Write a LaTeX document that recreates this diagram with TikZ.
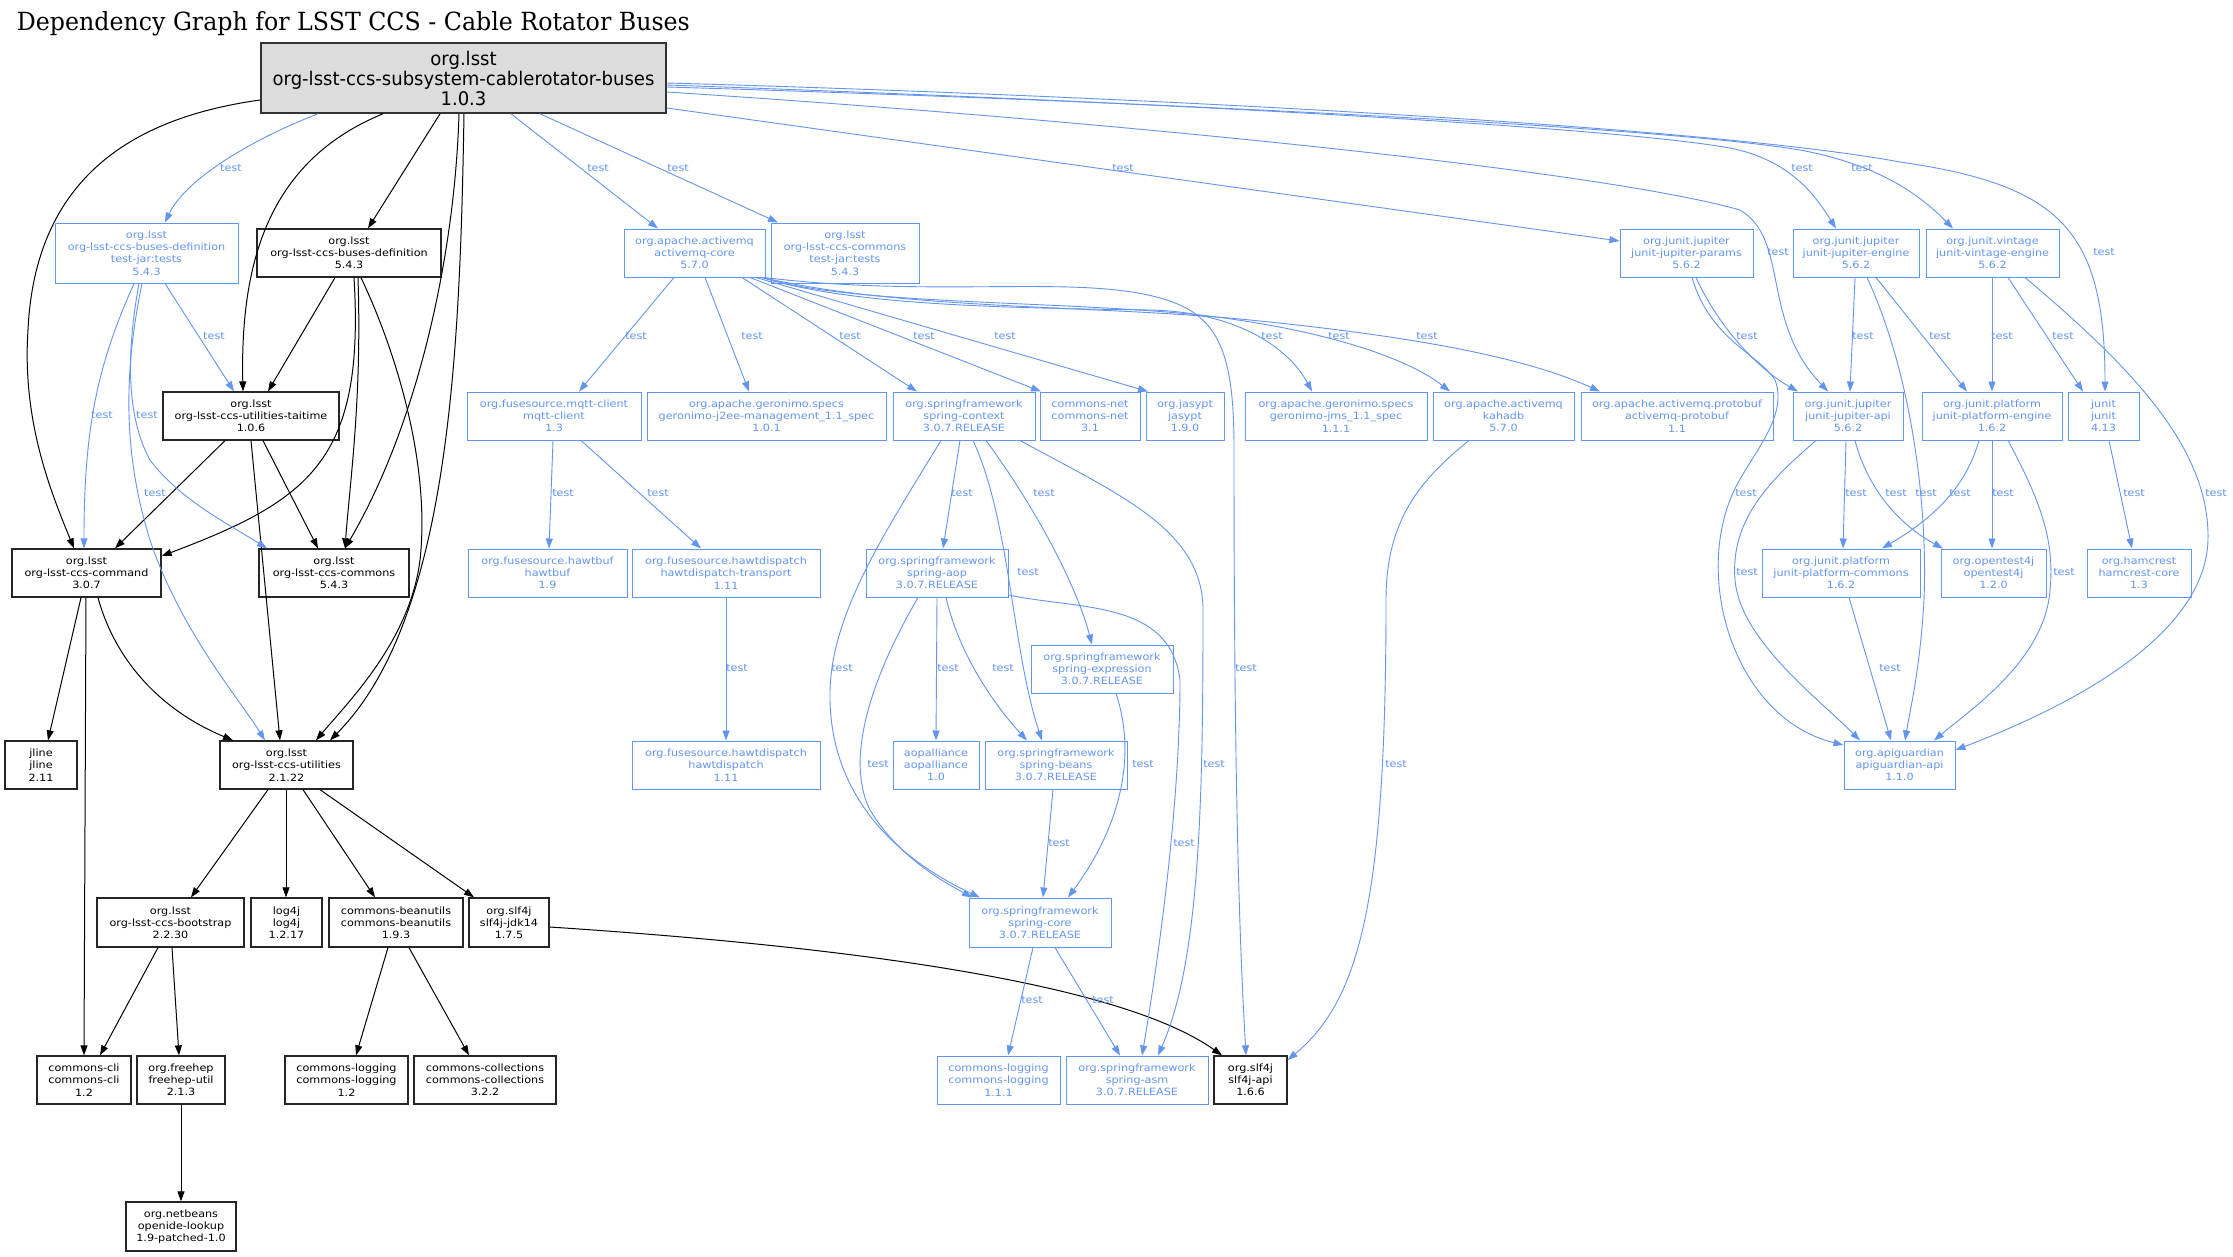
\documentclass[tikz,border=0pt]{standalone}
\usepackage{fontspec}
\usetikzlibrary{arrows.meta}
\newfontfamily\nf{DejaVu Sans}[FakeStretch=1.12]
\newfontfamily\rf{DejaVu Sans}[FakeStretch=0.96]
\newfontfamily\tf{DejaVu Serif}
\definecolor{cfb}{RGB}{100,149,237}
\definecolor{rootfill}{RGB}{220,220,220}
\tikzset{
 nb/.style={draw=black!85, line width=1.3pt, fill=white, align=center, inner sep=0pt, font=\nf\fontsize{10}{12.2}\selectfont, text=black},
 nt/.style={draw=cfb, line width=1.0pt, fill=white, align=center, inner sep=0pt, font=\nf\fontsize{10}{12.2}\selectfont, text=cfb},
 eb/.style={draw=black, line width=1.0pt, -{Triangle[length=10pt,width=7pt]}},
 et/.style={draw=cfb, line width=0.9pt, -{Triangle[length=10pt,width=7pt]}},
 lab/.style={font=\nf\fontsize{10}{12}\selectfont, text=cfb, inner sep=0pt},
}
\begin{document}
\begin{tikzpicture}[x=1pt,y=-1pt]
\useasboundingbox (0,0) rectangle (2233,1256);
\fill[white] (0,0) rectangle (2233,1256);
\node[anchor=base west, inner sep=0pt] (title) at (16.7,30) {\resizebox{673pt}{\height}{\tf\fontsize{25}{30}\selectfont Dependency Graph for LSST CCS - Cable Rotator Buses}};
% nodes
\node[draw=black!80, line width=1.6pt, fill=rootfill, align=center, inner sep=0pt, font=\rf\fontsize{18.8}{20}\selectfont, minimum width=405pt, minimum height=70pt] (root) at (463.5,78) {org.lsst\\org-lsst-ccs-subsystem-cablerotator-buses\\1.0.3};
\node[nt, minimum width=183pt, minimum height=60pt] (bdt) at (146.5,253) {org.lsst\\org-lsst-ccs-buses-definition\\test-jar:tests\\5.4.3};
\node[nb, minimum width=184pt, minimum height=48pt] (bdef) at (349,253) {org.lsst\\org-lsst-ccs-buses-definition\\5.4.3};
\node[nt, minimum width=141pt, minimum height=48pt] (amq) at (694.5,253) {org.apache.activemq\\activemq-core\\5.7.0};
\node[nt, minimum width=148pt, minimum height=60pt] (cct) at (845,253) {org.lsst\\org-lsst-ccs-commons\\test-jar:tests\\5.4.3};
\node[nt, minimum width=133pt, minimum height=48pt] (jparams) at (1686.5,253) {org.junit.jupiter\\junit-jupiter-params\\5.6.2};
\node[nt, minimum width=126pt, minimum height=48pt] (jeng) at (1856,253) {org.junit.jupiter\\junit-jupiter-engine\\5.6.2};
\node[nt, minimum width=133pt, minimum height=48pt] (veng) at (1992.5,253) {org.junit.vintage\\junit-vintage-engine\\5.6.2};
% row 2
\node[nb, minimum width=176pt, minimum height=48pt] (tai) at (251,416) {org.lsst\\org-lsst-ccs-utilities-taitime\\1.0.6};
\node[nt, minimum width=174pt, minimum height=48pt] (mqtt) at (554,416) {org.fusesource.mqtt-client\\mqtt-client\\1.3};
\node[nt, minimum width=239pt, minimum height=48pt] (j2ee) at (766.5,416) {org.apache.geronimo.specs\\geronimo-j2ee-management\_1.1\_spec\\1.0.1};
\node[nt, minimum width=142pt, minimum height=48pt] (sctx) at (964,416) {org.springframework\\spring-context\\3.0.7.RELEASE};
\node[nt, minimum width=100pt, minimum height=48pt] (cnet) at (1090,416) {commons-net\\commons-net\\3.1};
\node[nt, minimum width=78pt, minimum height=48pt] (jasypt) at (1185,416) {org.jasypt\\jasypt\\1.9.0};
\node[nt, minimum width=182pt, minimum height=48pt] (jms) at (1336,416) {org.apache.geronimo.specs\\geronimo-jms\_1.1\_spec\\1.1.1};
\node[nt, minimum width=141pt, minimum height=48pt] (kahadb) at (1503.5,416) {org.apache.activemq\\kahadb\\5.7.0};
\node[nt, minimum width=192pt, minimum height=48pt] (proto) at (1677,416) {org.apache.activemq.protobuf\\activemq-protobuf\\1.1};
\node[nt, minimum width=110pt, minimum height=48pt] (japi) at (1848,416) {org.junit.jupiter\\junit-jupiter-api\\5.6.2};
\node[nt, minimum width=140pt, minimum height=48pt] (peng) at (1992,416) {org.junit.platform\\junit-platform-engine\\1.6.2};
\node[nt, minimum width=71pt, minimum height=48pt] (junit) at (2103.5,416) {junit\\junit\\4.13};
% row 3
\node[nb, minimum width=149pt, minimum height=48pt] (cmd) at (86.5,573) {org.lsst\\org-lsst-ccs-command\\3.0.7};
\node[nb, minimum width=150pt, minimum height=48pt] (cmn) at (334,573) {org.lsst\\org-lsst-ccs-commons\\5.4.3};
\node[nt, minimum width=159pt, minimum height=48pt] (hawtbuf) at (547.5,573) {org.fusesource.hawtbuf\\hawtbuf\\1.9};
\node[nt, minimum width=188pt, minimum height=48pt] (hdt) at (726,573) {org.fusesource.hawtdispatch\\hawtdispatch-transport\\1.11};
\node[nt, minimum width=142pt, minimum height=48pt] (aop) at (937,573) {org.springframework\\spring-aop\\3.0.7.RELEASE};
\node[nt, minimum width=158pt, minimum height=48pt] (pcom) at (1841,573) {org.junit.platform\\junit-platform-commons\\1.6.2};
\node[nt, minimum width=105pt, minimum height=48pt] (ot4j) at (1993.5,573) {org.opentest4j\\opentest4j\\1.2.0};
\node[nt, minimum width=104pt, minimum height=48pt] (ham) at (2139,573) {org.hamcrest\\hamcrest-core\\1.3};
\node[nt, minimum width=142pt, minimum height=48pt] (sexp) at (1102,669) {org.springframework\\spring-expression\\3.0.7.RELEASE};
% row 4
\node[nb, minimum width=72pt, minimum height=48pt] (jline) at (41,765) {jline\\jline\\2.11};
\node[nb, minimum width=133pt, minimum height=48pt] (util) at (286.5,765) {org.lsst\\org-lsst-ccs-utilities\\2.1.22};
\node[nt, minimum width=188pt, minimum height=48pt] (hd) at (726,765) {org.fusesource.hawtdispatch\\hawtdispatch\\1.11};
\node[nt, minimum width=86pt, minimum height=48pt] (aopa) at (936,765) {aopalliance\\aopalliance\\1.0};
\node[nt, minimum width=142pt, minimum height=48pt] (sbeans) at (1056,765) {org.springframework\\spring-beans\\3.0.7.RELEASE};
\node[nt, minimum width=111pt, minimum height=48pt] (apig) at (1899.5,765) {org.apiguardian\\apiguardian-api\\1.1.0};
% row 5
\node[nb, minimum width=147pt, minimum height=49pt] (boot) at (170.5,922.5) {org.lsst\\org-lsst-ccs-bootstrap\\2.2.30};
\node[nb, minimum width=71pt, minimum height=49pt] (log4j) at (286.5,922.5) {log4j\\log4j\\1.2.17};
\node[nb, minimum width=134pt, minimum height=49pt] (cbu) at (396,922.5) {commons-beanutils\\commons-beanutils\\1.9.3};
\node[nb, minimum width=80pt, minimum height=49pt] (jdk14) at (509,922.5) {org.slf4j\\slf4j-jdk14\\1.7.5};
\node[nt, minimum width=142pt, minimum height=49pt] (score) at (1040,922.5) {org.springframework\\spring-core\\3.0.7.RELEASE};
% row 6
\node[nb, minimum width=94pt, minimum height=48pt] (ccli) at (84,1080) {commons-cli\\commons-cli\\1.2};
\node[nb, minimum width=88pt, minimum height=48pt] (fhu) at (181,1080) {org.freehep\\freehep-util\\2.1.3};
\node[nb, minimum width=123pt, minimum height=48pt] (clog) at (346.5,1080) {commons-logging\\commons-logging\\1.2};
\node[nb, minimum width=142pt, minimum height=48pt] (ccol) at (485,1080) {commons-collections\\commons-collections\\3.2.2};
\node[nt, minimum width=123pt, minimum height=48pt] (clog2) at (998.5,1080) {commons-logging\\commons-logging\\1.1.1};
\node[nt, minimum width=142pt, minimum height=48pt] (sasm) at (1137,1080) {org.springframework\\spring-asm\\3.0.7.RELEASE};
\node[nb, minimum width=73pt, minimum height=48pt] (slapi) at (1250.5,1080) {org.slf4j\\slf4j-api\\1.6.6};
\node[nb, minimum width=110pt, minimum height=49pt] (lookup) at (181,1226.5) {org.netbeans\\openide-lookup\\1.9-patched-1.0};
% black edges
\draw[eb] (root.west |- 0,100) .. controls (130,118) and (35,180) .. (28,330) .. controls (22,420) and (50,490) .. (cmd.north -| 74,0);
\draw[eb] (root.south -| 383,0) .. controls (270,160) and (240,260) .. (tai.north -| 243,0);
\draw[eb] (root.south -| 440,0) -- (bdef.north -| 368,0);
\draw[eb] (root.south -| 459,0) .. controls (455,250) and (420,420) .. (cmn.north -| 345,0);
\draw[eb] (root.south -| 464,0) .. controls (460,350) and (450,620) .. (util.north -| 330,0);
\draw[eb] (bdef.south -| 335,0) -- (tai.north -| 268,0);
\draw[eb] (bdef.south -| 354,0) .. controls (365,460) and (310,500) .. (cmd.east |- 0,556);
\draw[eb] (bdef.south -| 358,0) .. controls (362,400) and (350,480) .. (cmn.north -| 345,0);
\draw[eb] (bdef.south -| 361,0) .. controls (400,360) and (430,470) .. (420,560) .. controls (410,640) and (350,700) .. (util.north -| 316,0);
\draw[eb] (tai.south -| 225,0) -- (cmd.north -| 115,0);
\draw[eb] (tai.south -| 251,0) -- (util.north -| 280,0);
\draw[eb] (tai.south -| 263,0) -- (cmn.north -| 318,0);
\draw[eb] (cmd.south -| 81,0) -- (jline.north -| 48,0);
\draw[eb] (cmd.south -| 86,0) -- (ccli.north -| 84,0);
\draw[eb] (cmd.south -| 98,0) .. controls (115,660) and (160,710) .. (util.north -| 233,0);
\draw[eb] (util.south -| 268,0) -- (boot.north -| 191,0);
\draw[eb] (util.south -| 286,0) -- (log4j.north -| 286,0);
\draw[eb] (util.south -| 303,0) -- (cbu.north -| 375,0);
\draw[eb] (util.south -| 320,0) -- (jdk14.north -| 474,0);
\draw[eb] (boot.south -| 158,0) -- (ccli.north -| 100,0);
\draw[eb] (boot.south -| 172,0) -- (fhu.north -| 179,0);
\draw[eb] (fhu.south -| 181,0) -- (lookup.north -| 181,0);
\draw[eb] (cbu.south -| 388,0) -- (clog.north -| 356,0);
\draw[eb] (cbu.south -| 409,0) -- (ccol.north -| 469,0);
\draw[eb] (jdk14.east |- 0,927) .. controls (900,950) and (1130,990) .. (slapi.north -| 1222,0);
% blue edges from root
\draw[et] (root.south -| 318,0) .. controls (250,140) and (185,180) .. (bdt.north -| 165,0);
\draw[et] (root.south -| 511,0) -- (amq.north -| 658,0);
\draw[et] (root.south -| 540,0) -- (cct.north -| 778,0);
\draw[et] (root.east |- 0,108) -- (jparams.west |- 0,241);
\draw[et] (root.east |- 0,92) .. controls (1100,120) and (1600,170) .. (1740,210) .. controls (1790,240) and (1760,320) .. (japi.north -| 1828,0);
\draw[et] (root.east |- 0,85) .. controls (1100,100) and (1600,125) .. (1730,148) .. controls (1790,160) and (1815,195) .. (jeng.north -| 1836,0);
\draw[et] (root.east |- 0,87) .. controls (1100,100) and (1650,125) .. (1800,150) .. controls (1880,165) and (1920,195) .. (veng.north -| 1953,0);
\draw[et] (root.east |- 0,83) .. controls (1100,95) and (1700,125) .. (1900,162) .. controls (2060,185) and (2105,230) .. (junit.north -| 2105,0);
% bdt
\draw[et] (bdt.south -| 134,0) .. controls (100,360) and (84,420) .. (cmd.north -| 84,0);
\draw[et] (bdt.south -| 139,0) .. controls (125,360) and (128,420) .. (150,460) .. controls (180,500) and (230,525) .. (cmn.north -| 267,0);
\draw[et] (bdt.south -| 142,0) .. controls (122,380) and (125,460) .. (150,540) .. controls (180,630) and (240,700) .. (util.north -| 265,0);
\draw[et] (bdt.south -| 165,0) -- (tai.north -| 234,0);
% amq
\draw[et] (amq.south -| 674,0) -- (mqtt.north -| 579,0);
\draw[et] (amq.south -| 705,0) -- (j2ee.north -| 749,0);
\draw[et] (amq.south -| 742,0) -- (sctx.north -| 917,0);
\draw[et] (amq.south -| 750,0) -- (cnet.north -| 1041,0);
\draw[et] (amq.south -| 756,0) -- (jasypt.north -| 1148,0);
\draw[et] (amq.south -| 762,0) .. controls (850,305) and (1000,308) .. (1150,310) .. controls (1240,312) and (1290,350) .. (jms.north -| 1312,0);
\draw[et] (amq.south -| 762,0) .. controls (850,305) and (1050,300) .. (1200,315) .. controls (1330,330) and (1410,360) .. (kahadb.north -| 1450,0);
\draw[et] (amq.south -| 763,0) .. controls (900,310) and (1100,305) .. (1250,320) .. controls (1400,335) and (1520,355) .. (proto.north -| 1600,0);
\draw[et] (amq.south -| 764,0) .. controls (950,300) and (1100,270) .. (1180,305) .. controls (1225,325) and (1234,370) .. (1234,450) .. controls (1234,800) and (1240,950) .. (slapi.north -| 1246,0);
% mqtt
\draw[et] (mqtt.south -| 553,0) -- (hawtbuf.north -| 549,0);
\draw[et] (mqtt.south -| 581,0) -- (hdt.north -| 701,0);
\draw[et] (hdt.south -| 726,0) -- (hd.north -| 726,0);
% spring
\draw[et] (sctx.south -| 960,0) -- (aop.north -| 943,0);
\draw[et] (sctx.south -| 973,0) .. controls (1010,520) and (1012,650) .. (sbeans.north -| 1042,0);
\draw[et] (sctx.south -| 986,0) .. controls (1030,500) and (1075,580) .. (sexp.north -| 1092,0);
\draw[et] (sctx.south -| 941,0) .. controls (880,540) and (828,620) .. (830,700) .. controls (832,800) and (900,860) .. (score.north -| 980,0);
\draw[et] (sctx.south -| 1020,0) .. controls (1120,495) and (1203,530) .. (1203,610) .. controls (1203,800) and (1200,960) .. (sasm.north -| 1158,0);
\draw[et] (aop.south -| 937,0) -- (aopa.north -| 936,0);
\draw[et] (aop.south -| 946,0) .. controls (958,650) and (990,700) .. (sbeans.north -| 1027,0);
\draw[et] (aop.south -| 918,0) .. controls (870,680) and (845,760) .. (870,810) .. controls (900,860) and (950,885) .. (score.north -| 972,0);
\draw[et] (aop.east |- 0,595) .. controls (1080,610) and (1170,600) .. (1180,680) .. controls (1180,800) and (1160,950) .. (sasm.north -| 1142,0);
\draw[et] (sexp.south -| 1116,0) .. controls (1135,750) and (1125,820) .. (score.north -| 1068,0);
\draw[et] (sbeans.south -| 1053,0) -- (score.north -| 1043,0);
\draw[et] (score.south -| 1033,0) -- (clog2.north -| 1008,0);
\draw[et] (score.south -| 1055,0) -- (sasm.north -| 1120,0);
\draw[et] (kahadb.south -| 1469,0) .. controls (1420,480) and (1386,520) .. (1386,600) .. controls (1386,900) and (1360,1000) .. (slapi.east |- 0,1060);
% junit
\draw[et] (jparams.south -| 1696,0) .. controls (1720,330) and (1760,370) .. (japi.north -| 1798,0);
\draw[et] (jparams.south -| 1692,0) .. controls (1710,340) and (1760,355) .. (1775,380) .. controls (1790,420) and (1745,460) .. (1730,500) .. controls (1695,590) and (1740,720) .. (apig.west |- 0,745);
\draw[et] (japi.south -| 1816,0) .. controls (1770,480) and (1730,520) .. (1735,580) .. controls (1740,640) and (1820,700) .. (apig.north -| 1860,0);
\draw[et] (jeng.south -| 1855,0) -- (japi.north -| 1850,0);
\draw[et] (jeng.south -| 1867,0) .. controls (1910,370) and (1928,500) .. (1924,600) .. controls (1920,670) and (1910,710) .. (apig.north -| 1905,0);
\draw[et] (jeng.south -| 1876,0) -- (peng.north -| 1967,0);
\draw[et] (veng.south -| 1992,0) -- (peng.north -| 1992,0);
\draw[et] (veng.south -| 2008,0) -- (junit.north -| 2083,0);
\draw[et] (veng.south -| 2025,0) .. controls (2135,370) and (2210,450) .. (2208,540) .. controls (2205,640) and (2060,710) .. (apig.east |- 0,750);
\draw[et] (japi.south -| 1846,0) -- (pcom.north -| 1843,0);
\draw[et] (japi.south -| 1855,0) .. controls (1868,490) and (1900,525) .. (ot4j.north -| 1943,0);
\draw[et] (peng.south -| 1979,0) .. controls (1965,490) and (1930,520) .. (pcom.north -| 1882,0);
\draw[et] (peng.south -| 1992,0) -- (ot4j.north -| 1992,0);
\draw[et] (peng.south -| 2008,0) .. controls (2040,500) and (2055,540) .. (2050,590) .. controls (2045,660) and (1970,710) .. (apig.north -| 1934,0);
\draw[et] (junit.south -| 2109,0) -- (ham.north -| 2132,0);
\draw[et] (pcom.south -| 1849,0) -- (apig.north -| 1891,0);
% labels
\node[lab] (l1) at (231,168) {test};
\node[lab] (l2) at (598,168) {test};
\node[lab] (l3) at (678,168) {test};
\node[lab] (l4) at (1123,168) {test};
\node[lab] (l5) at (1778,252) {test};
\node[lab] (l6) at (1802,168) {test};
\node[lab] (l7) at (1862,168) {test};
\node[lab] (l8) at (2104,252) {test};
\node[lab] (l9) at (102,415) {test};
\node[lab] (l10) at (147,415) {test};
\node[lab] (l11) at (155,493) {test};
\node[lab] (l12) at (214,336) {test};
\node[lab] (l13) at (636,336) {test};
\node[lab] (l14) at (752,336) {test};
\node[lab] (l15) at (850,336) {test};
\node[lab] (l16) at (924,336) {test};
\node[lab] (l17) at (1005,336) {test};
\node[lab] (l18) at (1272,336) {test};
\node[lab] (l19) at (1339,336) {test};
\node[lab] (l20) at (1427,336) {test};
\node[lab] (l21) at (1246,668) {test};
\node[lab] (l22) at (563,493) {test};
\node[lab] (l23) at (658,493) {test};
\node[lab] (l24) at (737,668) {test};
\node[lab] (l25) at (962,493) {test};
\node[lab] (l26) at (1028,572) {test};
\node[lab] (l27) at (1044,493) {test};
\node[lab] (l28) at (842,668) {test};
\node[lab] (l29) at (1214,764) {test};
\node[lab] (l30) at (948,668) {test};
\node[lab] (l31) at (1003,668) {test};
\node[lab] (l32) at (878,764) {test};
\node[lab] (l33) at (1184,843) {test};
\node[lab] (l34) at (1143,764) {test};
\node[lab] (l35) at (1059,843) {test};
\node[lab] (l36) at (1032,1000) {test};
\node[lab] (l37) at (1103,1000) {test};
\node[lab] (l38) at (1396,764) {test};
\node[lab] (l39) at (1747,336) {test};
\node[lab] (l40) at (1746,493) {test};
\node[lab] (l41) at (1747,572) {test};
\node[lab] (l42) at (1863,336) {test};
\node[lab] (l43) at (1926,493) {test};
\node[lab] (l44) at (1940,336) {test};
\node[lab] (l45) at (2002,336) {test};
\node[lab] (l46) at (2063,336) {test};
\node[lab] (l47) at (2216,493) {test};
\node[lab] (l48) at (1856,493) {test};
\node[lab] (l49) at (1896,493) {test};
\node[lab] (l50) at (1960,493) {test};
\node[lab] (l51) at (2003,493) {test};
\node[lab] (l52) at (2064,572) {test};
\node[lab] (l53) at (2134,493) {test};
\node[lab] (l54) at (1890,668) {test};
\end{tikzpicture}
\end{document}
